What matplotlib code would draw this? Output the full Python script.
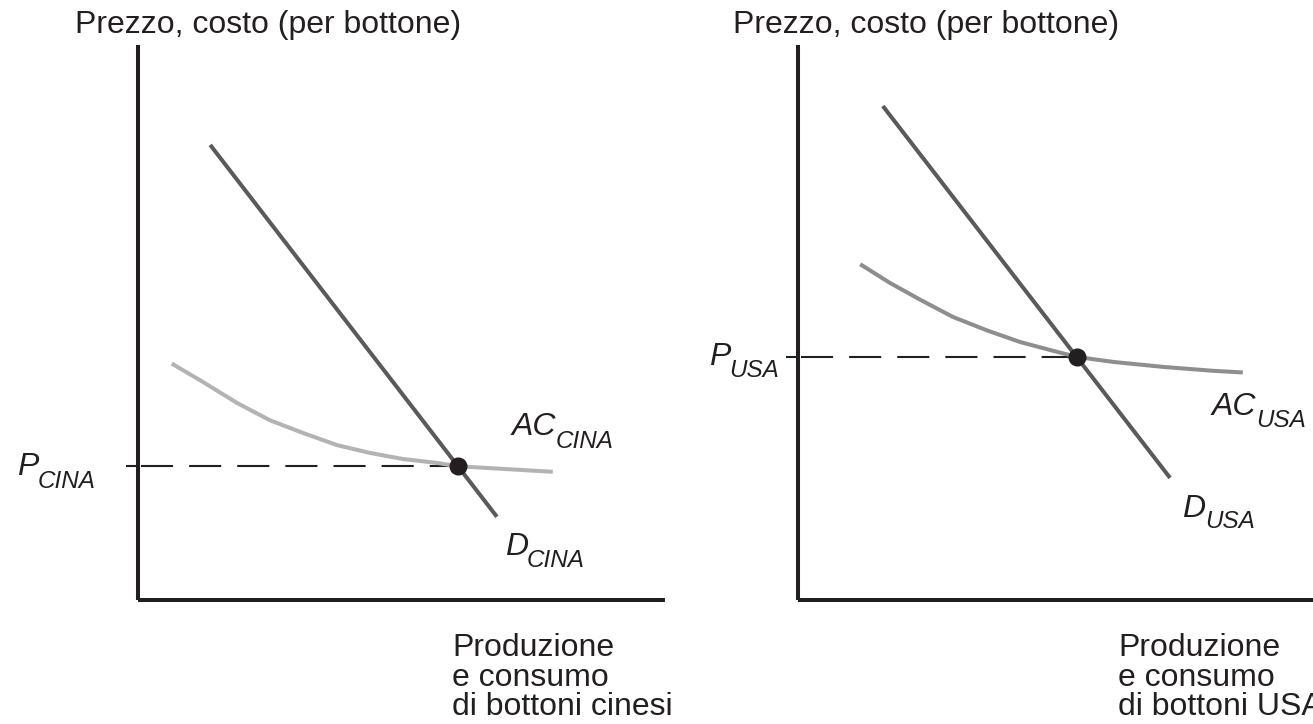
import matplotlib.pyplot as plt

plt.rcParams["font.family"] = ["Liberation Sans", "DejaVu Sans"]

# -----------------------------
# Data (quantity, price)
# -----------------------------

# China
d_cina_q = [1.37, 6.81]
d_cina_p = [8.20, 1.50]
ac_cina_q = [0.64, 1.23, 1.88, 2.50, 3.13, 3.78, 4.40, 5.03, 5.67, 6.07, 6.96, 7.87]
ac_cina_p = [4.26, 3.93, 3.55, 3.24, 3.01, 2.79, 2.65, 2.54, 2.47, 2.41, 2.36, 2.31]
eq_cina = (6.07, 2.41)

# USA
d_usa_q = [1.61, 7.06]
d_usa_p = [8.90, 2.20]
ac_usa_q = [1.18, 1.75, 2.32, 2.94, 3.58, 4.21, 4.84, 5.29, 5.98, 6.93, 7.87, 8.44]
ac_usa_p = [6.05, 5.71, 5.41, 5.10, 4.86, 4.65, 4.49, 4.38, 4.29, 4.20, 4.13, 4.10]
eq_usa = (5.29, 4.38)

y_title = "Prezzo, costo (per bottone)"
x_label_cina = "Produzione\ne consumo\ndi bottoni cinesi"
x_label_usa = "Produzione\ne consumo\ndi bottoni USA"

# (main text, subscript, main position, subscript position)
labels_cina = [
    ("P", "CINA", (-2.30, 2.25), (-1.91, 2.02)),
    ("AC", "CINA", (7.09, 2.97), (7.93, 2.73)),
    ("D", "CINA", (6.96, 0.81), (7.38, 0.60)),
]
labels_usa = [
    ("P", "USA", (-1.69, 4.23), (-1.30, 4.02)),
    ("AC", "USA", (7.85, 3.33), (8.70, 3.12)),
    ("D", "USA", (7.28, 1.50), (7.72, 1.29)),
]

ink = "#231f20"
d_color = "#5a5a5a"
fs = 23
fs_sub = 17.5

W, H = 1313, 724
fig = plt.figure(figsize=(W / 100, H / 100), dpi=100)

ax1 = fig.add_axes([138 / W, (H - 600) / H, 527 / W, 555 / H])
ax2 = fig.add_axes([798 / W, (H - 600) / H, 515 / W, 555 / H])


def setup(ax, xmax, price):
    ax.set_xlim(0, xmax)
    ax.set_ylim(0, 10)
    for s in ["top", "right"]:
        ax.spines[s].set_visible(False)
    for s in ["left", "bottom"]:
        ax.spines[s].set_linewidth(2.9)
        ax.spines[s].set_color(ink)
        ax.spines[s].set_capstyle("butt")
    ax.set_xticks([])
    # small tick where the price line meets the axis
    ax.set_yticks([price])
    ax.set_yticklabels([])
    ax.tick_params(axis="y", direction="out", length=8.6, width=1.5, color=ink)
    ax.patch.set_alpha(0)


def panel(ax, d_q, d_p, ac_q, ac_p, eq, ac_color):
    ax.plot([0.06, eq[0]], [eq[1], eq[1]], color=ink, lw=1.5,
            dashes=(15.4, 7.7), solid_capstyle="butt")
    ax.plot(ac_q, ac_p, color=ac_color, lw=2.9, solid_capstyle="butt",
            solid_joinstyle="round")
    ax.plot(d_q, d_p, color=d_color, lw=2.9, solid_capstyle="butt")
    ax.plot(eq[0], eq[1], "o", color=ink, markersize=12, zorder=5)


def curve_labels(ax, items):
    for main, sub, p_main, p_sub in items:
        ax.text(p_main[0], p_main[1], main, fontsize=fs, style="italic",
                color=ink, ha="left", va="baseline")
        ax.text(p_sub[0], p_sub[1], sub, fontsize=fs_sub, style="italic",
                color=ink, ha="left", va="baseline")


setup(ax1, 10, eq_cina[1])
setup(ax2, 515 / 52.7, eq_usa[1])

panel(ax1, d_cina_q, d_cina_p, ac_cina_q, ac_cina_p, eq_cina, "#b3b3b3")
panel(ax2, d_usa_q, d_usa_p, ac_usa_q, ac_usa_p, eq_usa, "#8e8e8e")

# titles
ax1.text(-1.20, 10.36, y_title, fontsize=fs, color=ink, ha="left", va="center")
ax2.text(-1.23, 10.36, y_title, fontsize=fs, color=ink, ha="left", va="center")

curve_labels(ax1, labels_cina)
curve_labels(ax2, labels_usa)

# x axis labels
ax1.text(5.96, -0.60, x_label_cina, fontsize=fs, color=ink, ha="left", va="top",
         linespacing=0.98)
ax2.text(6.07, -0.60, x_label_usa, fontsize=fs, color=ink, ha="left", va="top",
         linespacing=0.98)

fig.savefig("out.png", dpi=100)
